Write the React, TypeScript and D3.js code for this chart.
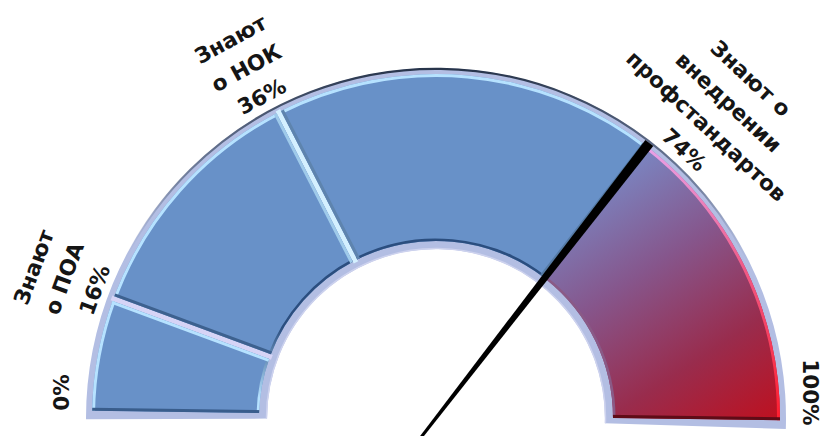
import React from "react";
import * as d3 from "d3";

// ---- data ----
const segmentBreaks = [0, 16, 36, 74, 100];
const segmentKinds = ["blue", "blue", "blue", "red"];
const markerValues = [16, 36, 74];
const markerCaptions = [
  ["Знают", "о ПОА"],
  ["Знают", "о НОК"],
  ["Знают о", "внедрении", "профстандартов"],
];
const endValues = [0, 100];
const endLabels = ["0%", "100%"];
const needleValue = 74;

// ---- layout ----
const W = 822;
const H = 436;
const CX = 436;
const CY = 418;
const TILT = 0.8;
const R_BACK_OUT = 350;
const R_OUT = 344;
const R_IN = 177;
const R_BACK_IN = 169;
const FONT = "'DejaVu Sans', Verdana, sans-serif";

// angle in degrees measured from the left end, over the top (the reference gauge is not evenly spaced)
const angle = d3.scaleLinear().domain(segmentBreaks).range([0, 19.5, 62, 127, 180]);
const labelShift = [0.8, -0.6, 6];

const rad = (deg: number) => (deg * Math.PI) / 180;
const polar = (r: number, a: number): [number, number] => [-r * Math.cos(rad(a)), -r * Math.sin(rad(a))];

const segArc = d3
  .arc<any>()
  .innerRadius(R_IN)
  .outerRadius(R_OUT)
  .startAngle((d: any) => rad(angle(d.v0) - 90))
  .endAngle((d: any) => rad(angle(d.v1) - 90))
  .padRadius(260)
  .padAngle(5 / 260);

const backArc = d3
  .arc<any>()
  .innerRadius(R_BACK_IN)
  .outerRadius(R_BACK_OUT)
  .startAngle(rad(-91))
  .endAngle(rad(91));

function arcPath(r: number, a0: number, a1: number) {
  const p = d3.path();
  const s = Math.PI + rad(a0);
  const e = Math.PI + rad(a1);
  p.moveTo(r * Math.cos(s), r * Math.sin(s));
  p.arc(0, 0, r, s, e, false);
  return p.toString();
}

const BLUE = "#6891c8";
const BLUE_LIGHT = "#b6e2ff";
const BLUE_DARK = "#2b4e7f";
const RED_DARK = "#4d0712";
const GAP_COLORS = ["#d6d4f6", "#d4f0ff"];

export default function App() {
  const segments = segmentKinds.map((k, i) => ({ v0: segmentBreaks[i], v1: segmentBreaks[i + 1], kind: k, i }));
  const blueMix = d3.interpolateRgb(BLUE_DARK, BLUE_LIGHT);
  const redMix = d3.interpolateRgb(RED_DARK, "#ff3a48");

  const aN = angle(needleValue);
  const p1 = polar(R_BACK_OUT - 2, aN);
  const p2 = polar(-26, aN);
  const len = Math.hypot(p2[0] - p1[0], p2[1] - p1[1]);
  const ux = (p2[0] - p1[0]) / len;
  const uy = (p2[1] - p1[1]) / len;
  const nx = -uy;
  const ny = ux;
  const w1 = 10;
  const w2 = 3;
  const needlePts = [
    [p1[0] + (nx * w1) / 2, p1[1] + (ny * w1) / 2],
    [p1[0] - (nx * w1) / 2, p1[1] - (ny * w1) / 2],
    [p2[0] - (nx * w2) / 2, p2[1] - (ny * w2) / 2],
    [p2[0] + (nx * w2) / 2, p2[1] + (ny * w2) / 2],
  ]
    .map((p) => p.join(","))
    .join(" ");

  return (
    <svg width={W} height={H} style={{ position: "fixed", left: 0, top: 0, background: "#fff" }}>
      <defs>
        <linearGradient id="redFill" gradientUnits="userSpaceOnUse" x1={170} y1={-250} x2={335} y2={-5}>
          <stop offset="0" stopColor="#7a86c2" />
          <stop offset="0.35" stopColor="#86568c" />
          <stop offset="0.7" stopColor="#992c4d" />
          <stop offset="1" stopColor="#bc1222" />
        </linearGradient>
        <linearGradient id="redEdge" gradientUnits="userSpaceOnUse" x1={0} y1={-280} x2={0} y2={0}>
          <stop offset="0" stopColor="#e8a6ee" />
          <stop offset="0.45" stopColor="#f05a86" />
          <stop offset="1" stopColor="#ff1c2c" />
        </linearGradient>
        <linearGradient id="innerEdge" gradientUnits="userSpaceOnUse" x1={0} y1={-R_IN} x2={0} y2={0}>
          <stop offset="0" stopColor={BLUE_DARK} />
          <stop offset="0.5" stopColor={BLUE_DARK} />
          <stop offset="0.9" stopColor={BLUE_LIGHT} />
        </linearGradient>
        <linearGradient id="outerRim" gradientUnits="userSpaceOnUse" x1={0} y1={-R_BACK_OUT} x2={0} y2={-150}>
          <stop offset="0" stopColor="#27344a" stopOpacity={1} />
          <stop offset="0.6" stopColor="#4d5c78" stopOpacity={0.6} />
          <stop offset="1" stopColor="#a4b0d0" stopOpacity={0} />
        </linearGradient>
        {segments.map((s) => (
          <clipPath id={`clip${s.i}`} key={s.i}>
            <path d={segArc(s) as string} />
          </clipPath>
        ))}
      </defs>

      <g transform={`translate(${CX},${CY}) rotate(${TILT})`}>
        {/* backing ring */}
        <path d={backArc({}) as string} fill="#b3bee3" />
        <path d={arcPath(R_BACK_OUT - 0.8, -1, 181)} fill="none" stroke="url(#outerRim)" strokeWidth={2.2} />
        <path d={arcPath(R_BACK_IN + 0.5, -1, 181)} fill="none" stroke="#cdd2ee" strokeWidth={1.5} />

        {/* light gaps between segments */}
        {segmentBreaks.slice(1, 3).map((v, i) => {
          const q0 = polar(R_IN - 2, angle(v));
          const q1 = polar(R_OUT + 2, angle(v));
          return <line key={`gap${i}`} x1={q0[0]} y1={q0[1]} x2={q1[0]} y2={q1[1]} stroke={GAP_COLORS[i]} strokeWidth={5} />;
        })}

        {/* segments */}
        {segments.map((s) => {
          const a0 = angle(s.v0);
          const a1 = angle(s.v1);
          const isRed = s.kind === "red";
          const mix = isRed ? redMix : blueMix;
          const startUp = -Math.cos(rad(a0));
          const endUp = Math.cos(rad(a1));
          const startCol = mix(Math.max(0, Math.min(1, (startUp + 1) / 2 + 0.1)));
          const endCol = mix(Math.max(0, Math.min(1, (endUp + 1) / 2 + 0.1)));
          const s0 = polar(R_IN - 8, a0);
          const s1 = polar(R_OUT + 8, a0);
          const e0 = polar(R_IN - 8, a1);
          const e1 = polar(R_OUT + 8, a1);
          return (
            <g key={s.i}>
              <path d={segArc(s) as string} fill={isRed ? "url(#redFill)" : BLUE} />
              <g clipPath={`url(#clip${s.i})`}>
                <path d={arcPath(R_OUT, a0 - 2, a1 + 2)} fill="none" stroke={isRed ? "url(#redEdge)" : BLUE_LIGHT} strokeWidth={6} />
                <path d={arcPath(R_IN, a0 - 2, a1 + 2)} fill="none" stroke={isRed ? "#8a5a86" : "url(#innerEdge)"} strokeWidth={5} />
                {!isRed && <line x1={s0[0]} y1={s0[1]} x2={s1[0]} y2={s1[1]} stroke={startCol} strokeWidth={11} />}
                <line x1={e0[0]} y1={e0[1]} x2={e1[0]} y2={e1[1]} stroke={endCol} strokeWidth={11} />
              </g>
            </g>
          );
        })}

        {/* needle */}
        <polygon points={needlePts} fill="#000" />
      </g>

      {/* labels */}
      <g transform={`translate(${CX},${CY - 2})`} fontFamily={FONT} fontWeight="bold" fontSize={21.5} fill="#151515">
        {markerValues.map((v, i) => {
          const a = angle(v) + labelShift[i];
          const lines = [...markerCaptions[i], `${v}%`];
          const n = lines.length;
          return lines.map((t, j) => {
            const r = 364 + (n - 1 - j) * 32.5;
            const [x, y] = polar(r, a);
            return (
              <text key={`${i}-${j}`} x={x} y={y} textAnchor="middle" dominantBaseline="central" transform={`rotate(${a - 90},${x},${y})`}>
                {t}
              </text>
            );
          });
        })}
        {endValues.map((v, i) => {
          const a = angle(v) + (i === 0 ? 3.6 : -3.6);
          const [x, y] = polar(375, a);
          return (
            <text key={`end${i}`} x={x} y={y} textAnchor="middle" dominantBaseline="central" transform={`rotate(${i === 0 ? -90 : 90},${x},${y})`}>
              {endLabels[i]}
            </text>
          );
        })}
      </g>
    </svg>
  );
}
